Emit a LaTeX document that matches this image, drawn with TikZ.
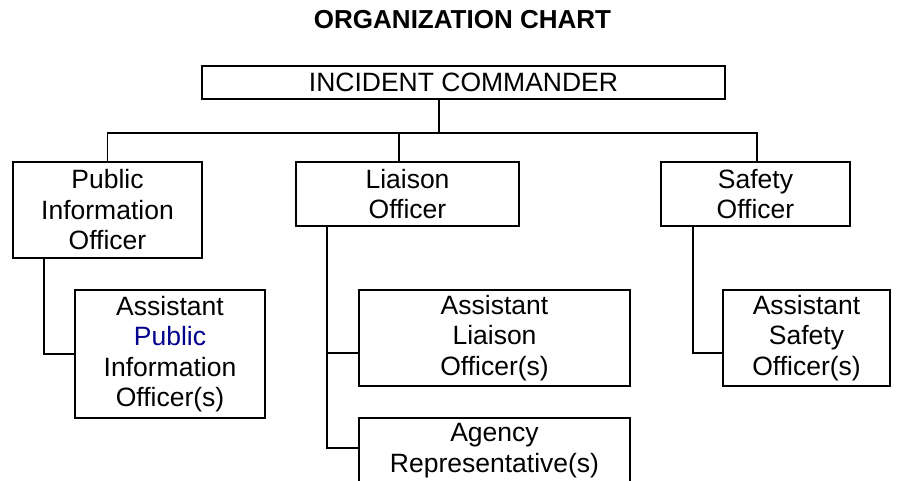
\documentclass[tikz,border=0pt]{standalone}
\usepackage{fontspec}
\setmainfont{Liberation Sans}
\usetikzlibrary{calc}
\definecolor{pubblue}{RGB}{0,0,140}
\begin{document}
\begin{tikzpicture}[x=1pt,y=-1pt,
  box/.style={draw,line width=1.8pt,rectangle,inner sep=0pt,align=center,
    font=\fontsize{26.5}{30.5}\selectfont},
  conn/.style={line width=1.8pt},
  lbl/.style={inner sep=0pt,align=center,font=\fontsize{26.5}{30.5}\selectfont}]
\useasboundingbox (0,0) rectangle (902,480);
\clip (0,0) rectangle (902,480);
\fill[white] (0,0) rectangle (902,480);

\node[anchor=base,inner sep=0pt,font=\fontsize{26}{30}\selectfont\bfseries] (title) at (462.5,28) {ORGANIZATION CHART};

\node[box,minimum width=523pt,minimum height=33pt] (ic) at (463.5,82.5) {INCIDENT COMMANDER};
\node[box,minimum width=189pt,minimum height=96pt] (pio) at (107.5,210) {Public\\Information\\Officer};
\node[box,minimum width=223pt,minimum height=64pt] (lo) at (407.5,194) {Liaison\\Officer};
\node[box,minimum width=189pt,minimum height=64pt] (so) at (755.5,194) {Safety\\Officer};
\node[box,minimum width=190pt,minimum height=128pt] (apio) at (170,354) {Assistant\\\textcolor{pubblue}{Public}\\Information\\Officer(s)};
\node[box,minimum width=271pt,minimum height=96pt] (al) at (494.5,338) {Assistant\\Liaison\\Officer(s)};
\node[box,minimum width=271pt,minimum height=102pt] (ag) at (494.5,469) {};
\node[lbl,anchor=north,yshift=-6pt] (agt) at (ag.north) {Agency\\Representative(s)};
\node[box,minimum width=167pt,minimum height=96pt] (as) at (806.5,338) {Assistant\\Safety\\Officer(s)};

\coordinate (icx) at (439,0);
\coordinate (lx) at (399,0);
\coordinate (sx) at (757,0);
\coordinate (barL) at (107,133);
\coordinate (px) at (44,0);
\coordinate (lx2) at (327,0);
\coordinate (sx2) at (693,0);

\draw[conn] (ic.south -| icx) -- (icx |- barL);
\draw[conn] (pio.north) |- (sx |- barL) -- (so.north -| sx);
\draw[conn] (lx |- barL) -- (lo.north -| lx);
\draw[conn] (pio.south -| px) |- (apio.west);
\draw[conn] (lo.south -| lx2) |- ($(ag.north west)+(0,31)$);
\draw[conn] (lx2 |- 0,353) -- ($(al.west)+(0,15)$);
\draw[conn] (so.south -| sx2) |- ($(as.west)+(0,15)$);
\end{tikzpicture}
\end{document}
